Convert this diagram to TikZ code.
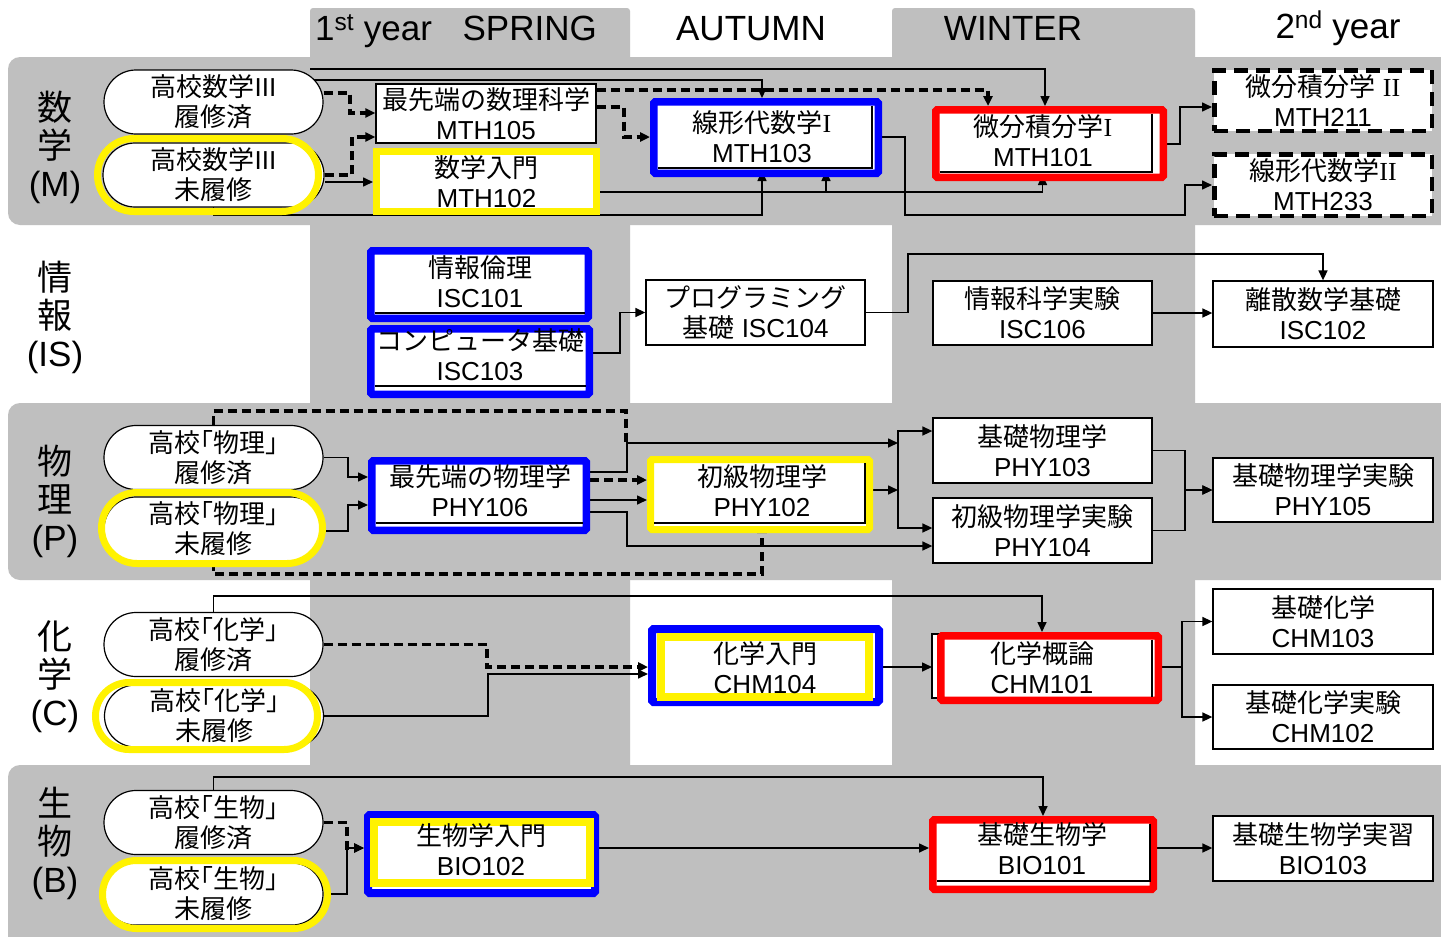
\documentclass[tikz,border=0pt]{standalone}
\usepackage{fontspec}
\setmainfont{Liberation Sans}
\newfontfamily\jpf{Noto Sans CJK JP}
\newfontfamily\serf{Liberation Serif}
\usetikzlibrary{arrows.meta,shapes.misc}
\definecolor{bandgray}{RGB}{191,191,191}
\newcommand\nfs{\fontsize{26}{30}\selectfont}
\newcommand\hfs{\fontsize{35}{40}\selectfont}
\newcommand\lfs{\fontsize{35}{38}\selectfont}
\pgfdeclarelayer{bg}
\pgfdeclarelayer{conn}
\pgfsetlayers{bg,conn,main}
\begin{document}
\begin{tikzpicture}[x=1pt,y=-1pt,
  box/.style={draw=black, line width=1.3pt, fill=white, align=center, font=\nfs, inner sep=0pt},
  dbox/.style={box, line width=4.5pt, dash pattern=on 14pt off 8pt},
  capsule/.style={rounded rectangle, draw=black, line width=1.2pt, fill=white, minimum width=219pt, minimum height=64pt, align=center, font=\nfs, inner sep=0pt},
  yring/.style={rounded rectangle, draw=yellow, line width=7pt, inner sep=0pt},
  fr/.style={fill=white, line width=7.5pt, inner sep=0pt, rounded corners=1.5pt},
  txt/.style={align=center, font=\nfs, inner sep=0pt},
  inl/.style={draw=black, line width=1.3pt},
  hdr/.style={font=\hfs, inner sep=0pt, anchor=base},
  lab/.style={font=\lfs, align=center, inner sep=0pt},
  con/.style={line width=1.6pt, -{Triangle[length=10pt,width=9pt]}},
  ln/.style={line width=1.6pt},
  dln/.style={line width=3.2pt, dash pattern=on 9pt off 5pt},
  dcon/.style={dln, -{Triangle[length=10pt,width=9pt]}}
]
\useasboundingbox (0,0) rectangle (1441,937);
\begin{pgfonlayer}{bg}
\fill[white] (0,0) rectangle (1441,937);
\fill[bandgray, rounded corners=3pt] (310,8) rectangle (630,950);
\fill[bandgray, rounded corners=3pt] (892,8) rectangle (1195,950);
\fill[bandgray, rounded corners=12pt] (8,57) rectangle (1470,225);
\fill[bandgray, rounded corners=12pt] (8,403) rectangle (1470,580);
\fill[bandgray, rounded corners=12pt] (8,765) rectangle (1470,970);
\end{pgfonlayer}

% headers
\node[hdr] (hS) at (456,40) {1\textsuperscript{st} year\hspace{0.6em} SPRING};
\node[hdr] (hA) at (751,40) {AUTUMN};
\node[hdr] (hW) at (1013,40) {WINTER};
\node[hdr] (hY) at (1338,38) {2\textsuperscript{nd} year};

% row labels
\node[lab] (lM) at (55,147) {{\jpf 数}\\{\jpf 学}\\(M)};
\node[lab] (lI) at (55,317) {{\jpf 情}\\{\jpf 報}\\(IS)};
\node[lab] (lP) at (55,501) {{\jpf 物}\\{\jpf 理}\\(P)};
\node[lab] (lC) at (55,677) {{\jpf 化}\\{\jpf 学}\\(C)};
\node[lab] (lB) at (55,843) {{\jpf 生}\\{\jpf 物}\\(B)};

% ---------- Math ----------
\node[capsule] (o1) at (213.5,102) {{\jpf 高校数学}III\\{\jpf 履修済}};
\node[capsule, minimum width=221pt] (o2) at (213.5,175) {{\jpf 高校数学}III\\{\jpf 未履修}};
\node[yring, minimum width=221pt, minimum height=73pt] (o2y) at (208,175) {};

\node[box, minimum width=220pt, minimum height=59pt] (m105) at (486,113.5) {{\jpf 最先端の数理科学}\\MTH105};
\node[box, draw=yellow, line width=7pt, minimum width=220pt, minimum height=60pt] (m102) at (486.5,181.5) {{\jpf 数学入門}\\MTH102};

\node[fr, draw=blue, minimum width=224.5pt, minimum height=71.5pt] (m103) at (766,137.5) {};
\draw[inl] ([shift={(-10,7.5)}]m103.north east) |- ([shift={(7.5,-9)}]m103.south west);
\node[txt] (m103t) at (762,137) {{\jpf 線形代数学}{\serf I}\\MTH103};

\node[fr, draw=red, minimum width=227.5pt, minimum height=67.5pt] (m101) at (1049.5,143.5) {};
\draw[inl] ([shift={(-15,7.5)}]m101.north east) |- ([shift={(7.5,-9)}]m101.south west);
\node[txt] (m101t) at (1043,141) {{\jpf 微分積分学}{\serf I}\\MTH101};

\node[dbox, minimum width=217.5pt, minimum height=60.5pt] (m211) at (1323,100.5) {{\jpf 微分積分学} {\serf II}\\MTH211};
\node[dbox, minimum width=217.5pt, minimum height=61.5pt] (m233) at (1323,185) {{\jpf 線形代数学}{\serf II}\\MTH233};

% ---------- IS ----------
\node[fr, draw=blue, minimum width=217.5pt, minimum height=67.5pt] (i101) at (479.5,284.5) {};
\draw[inl] ([shift={(7.5,-9)}]i101.south west) -- ([shift={(-7.5,-9)}]i101.south east);
\node[txt] (i101t) at (480,282) {{\jpf 情報倫理}\\ISC101};

\node[fr, draw=blue, minimum width=218.5pt, minimum height=65.5pt] (i103) at (480,361.5) {};
\draw[inl] ([shift={(7.5,-12)}]i103.south west) -- ([shift={(-7.5,-12)}]i103.south east);
\node[txt] (i103t) at (480,355) {{\jpf コンピュータ基礎}\\ISC103};

\node[box, minimum width=219pt, minimum height=65pt] (i104) at (755.5,312.5) {{\jpf プログラミング}\\{\jpf 基礎} ISC104};
\node[box, minimum width=219pt, minimum height=64pt] (i106) at (1042.5,313) {{\jpf 情報科学実験}\\ISC106};
\node[box, minimum width=220pt, minimum height=66pt] (i102) at (1323,314) {{\jpf 離散数学基礎}\\ISC102};

% ---------- Physics ----------
\node[capsule] (p1) at (213.5,457.5) {{\jpf 高校｢物理｣}\\{\jpf 履修済}};
\node[capsule] (p2) at (213.5,529) {{\jpf 高校｢物理｣}\\{\jpf 未履修}};
\node[yring, minimum width=221pt, minimum height=71pt] (p2y) at (212,528) {};

\node[fr, draw=blue, minimum width=214.5pt, minimum height=69.5pt] (p106) at (479,495.5) {};
\draw[inl] ([shift={(7.5,-11)}]p106.south west) -- ([shift={(-7.5,-11)}]p106.south east);
\node[txt] (p106t) at (480,491) {{\jpf 最先端の物理学}\\PHY106};

\node[fr, draw=yellow, line width=7pt, minimum width=219pt, minimum height=70pt] (p102) at (760,494.5) {};
\draw[inl] ([shift={(-8,7)}]p102.north east) |- ([shift={(7,-10)}]p102.south west);
\node[txt] (p102t) at (762,491) {{\jpf 初級物理学}\\PHY102};

\node[box, minimum width=219pt, minimum height=65pt] (p103) at (1042.5,450.5) {{\jpf 基礎物理学}\\PHY103};
\node[box, minimum width=219pt, minimum height=65pt] (p104) at (1042.5,530.5) {{\jpf 初級物理学実験}\\PHY104};
\node[box, minimum width=220pt, minimum height=64pt] (p105) at (1323,490) {{\jpf 基礎物理学実験}\\PHY105};

% ---------- Chemistry ----------
\node[capsule] (c1) at (213.5,644.5) {{\jpf 高校｢化学｣}\\{\jpf 履修済}};
\node[capsule, minimum height=62pt] (c2) at (214,716) {{\jpf 高校｢化学｣}\\{\jpf 未履修}};
\node[yring, minimum width=222pt, minimum height=67pt] (c2y) at (206.5,716) {};

\node[fr, draw=blue, line width=8pt, minimum width=227pt, minimum height=73pt] (c104) at (765.5,665.5) {};
\draw[draw=yellow, line width=8pt] ([shift={(13,12)}]c104.north west) rectangle ([shift={(-14,-9)}]c104.south east);
\node[txt] (c104t) at (765,668) {{\jpf 化学入門}\\CHM104};

\node[fr, draw=red, minimum width=217.5pt, minimum height=64.5pt] (c101) at (1049.5,668) {};
\begin{pgfonlayer}{conn}
\draw[inl, fill=white] ([shift={(-5,2)}]c101.north west) rectangle ([shift={(-10,-6)}]c101.south east);
\end{pgfonlayer}
\draw[inl] ([shift={(-10,7.5)}]c101.north east) -- ([shift={(-10,-7.5)}]c101.south east);
\node[txt] (c101t) at (1042,668) {{\jpf 化学概論}\\CHM101};
\coordinate (c101L) at ([xshift=-5pt]c101.west);

\node[box, minimum width=220pt, minimum height=65pt] (c103) at (1323,621.5) {{\jpf 基礎化学}\\CHM103};
\node[box, minimum width=220pt, minimum height=64pt] (c102) at (1323,717) {{\jpf 基礎化学実験}\\CHM102};

% ---------- Biology ----------
\node[capsule] (b1) at (213.5,822.5) {{\jpf 高校｢生物｣}\\{\jpf 履修済}};
\node[capsule, minimum height=62pt] (b2) at (213.5,894) {{\jpf 高校｢生物｣}\\{\jpf 未履修}};
\node[yring, minimum width=225pt, minimum height=68pt] (b2y) at (215,894.5) {};

\node[fr, draw=blue, line width=8pt, minimum width=227pt, minimum height=78pt] (b102) at (481.5,854) {};
\draw[draw=yellow, line width=8pt] ([shift={(10,10.5)}]b102.north west) rectangle ([shift={(-9.5,-14.5)}]b102.south east);
\node[txt] (b102t) at (481,850) {{\jpf 生物学入門}\\BIO102};

\node[fr, draw=red, minimum width=220.5pt, minimum height=69.5pt] (b101) at (1043,854.5) {};
\draw[inl] ([shift={(-7,7.5)}]b101.north east) |- ([shift={(7.5,-12)}]b101.south west);
\node[txt] (b101t) at (1042,849) {{\jpf 基礎生物学}\\BIO101};

\node[box, minimum width=220pt, minimum height=65pt] (b103) at (1323,848.5) {{\jpf 基礎生物学実習}\\BIO103};

% ---------- connectors ----------
\begin{pgfonlayer}{conn}
% math
\draw[dcon] (o1.east |- 0,93) -- (350,93) |- (m105.west |- 0,113);
\draw[dcon] (o2.east |- 0,175) -- (352,175) |- (m105.west |- 0,137);
\draw[con] (o2.east |- 0,182) -- (m102.west |- 0,182);
\draw[con] ([shift={(96.5,-0.5)}]o1.north) -| ([xshift=-4.5pt]m101.north);
\draw[con] (o1.center |- 0,80) -| ([xshift=-4pt]m103.north);
\draw[dcon] (m105.east |- 0,90) -| ([xshift=-61.5pt]m101.north);
\draw[dcon] (m105.east |- 0,107) -- (624,107) |- (m103.west |- 0,137);
\draw[con] (m102.east |- 0,192) -| ([shift={(-7,-6)}]m101.south);
\draw[con] (m102.east |- 0,192) -| ([shift={(60,-6)}]m103.south);
\draw[con] (o2.center) |- ([shift={(-4,38)}]m103.south) -- ([shift={(-4,-6)}]m103.south);
\draw[con] (m103.east |- 0,137) -- (905,137) |- (1185,215) |- (m233.west |- 0,185);
\draw[con] (m101.east |- 0,144) -- (1180,144) |- (m211.west |- 0,107);
% IS
\draw[con] (i103.east |- 0,353) -- (620,353) |- (i104.west);
\draw[con] (i104.east) -| (908,254) -| (i102.north);
\draw[con] (i106.east) -- (i102.west |- i106.east);
% physics
\draw[con] (p1.east) -- (348,457.5) |- (p106.west |- 0,477);
\draw[con] (p2.east |- 0,531) -- (348,531) |- (p106.west |- 0,505);
\draw[dln] (p1.north) |- (626,411) -- (626,443);
\coordinate (jP) at (898,490);
\draw[con] (p106.east |- 0,472) -- (627,472) |- (jP |- 0,443);
\draw[con] (p102.east |- jP) -- (jP);
\draw[con] (jP |- 0,528) |- (p103.west |- 0,431);
\draw[con] (jP |- 0,431) |- (p104.west |- 0,528);
\draw[dcon] (p106.east |- 0,480) -- (p102.west |- 0,480);
\draw[con] (p106.east |- 0,500) -- (p102.west |- 0,500);
\draw[con] (p106.east |- 0,512) -- (627,512) |- (p104.west |- 0,546);
\draw[dcon] (p2.south) |- ([shift={(2,41)}]p102.south) -- ([shift={(2,-10)}]p102.south);
\draw[con] (p103.east) -- (1185,450.5) |- (p105.west);
\draw[con] (p104.east) -- (1185,530.5) |- (p105.west);
% chemistry
\draw[dcon] (c1.east) -- (487,644.5) |- (c104.west |- 0,667);
\draw[con] (c2.east) -- (488,716) |- (c104.west |- 0,674);
\draw[con] (c1.north) -- (c1.north |- 0,596) -| ([xshift=-7.5pt]c101.north);
\draw[con] (c104.east |- 0,667) -- (c101L |- 0,667);
\coordinate (jC) at (1182,667);
\draw[ln] (c101.east |- jC) -- (jC);
\draw[con] (jC) |- (c103.west);
\draw[con] (jC) |- (c102.west);
% biology
\draw[dcon] (b1.east) -- (347,822.5) |- (b102.west |- 0,848);
\draw[con] (b2.east) -- (347,894) |- (b102.west |- 0,848);
\draw[con] (b1.north) -- (b1.north |- 0,777) -| (b101.north);
\draw[con] (b102.east |- 0,848) -- (b101.west |- 0,848);
\draw[con] (b101.east |- 0,848) -- (b103.west |- 0,848);
\end{pgfonlayer}
\end{tikzpicture}
\end{document}
